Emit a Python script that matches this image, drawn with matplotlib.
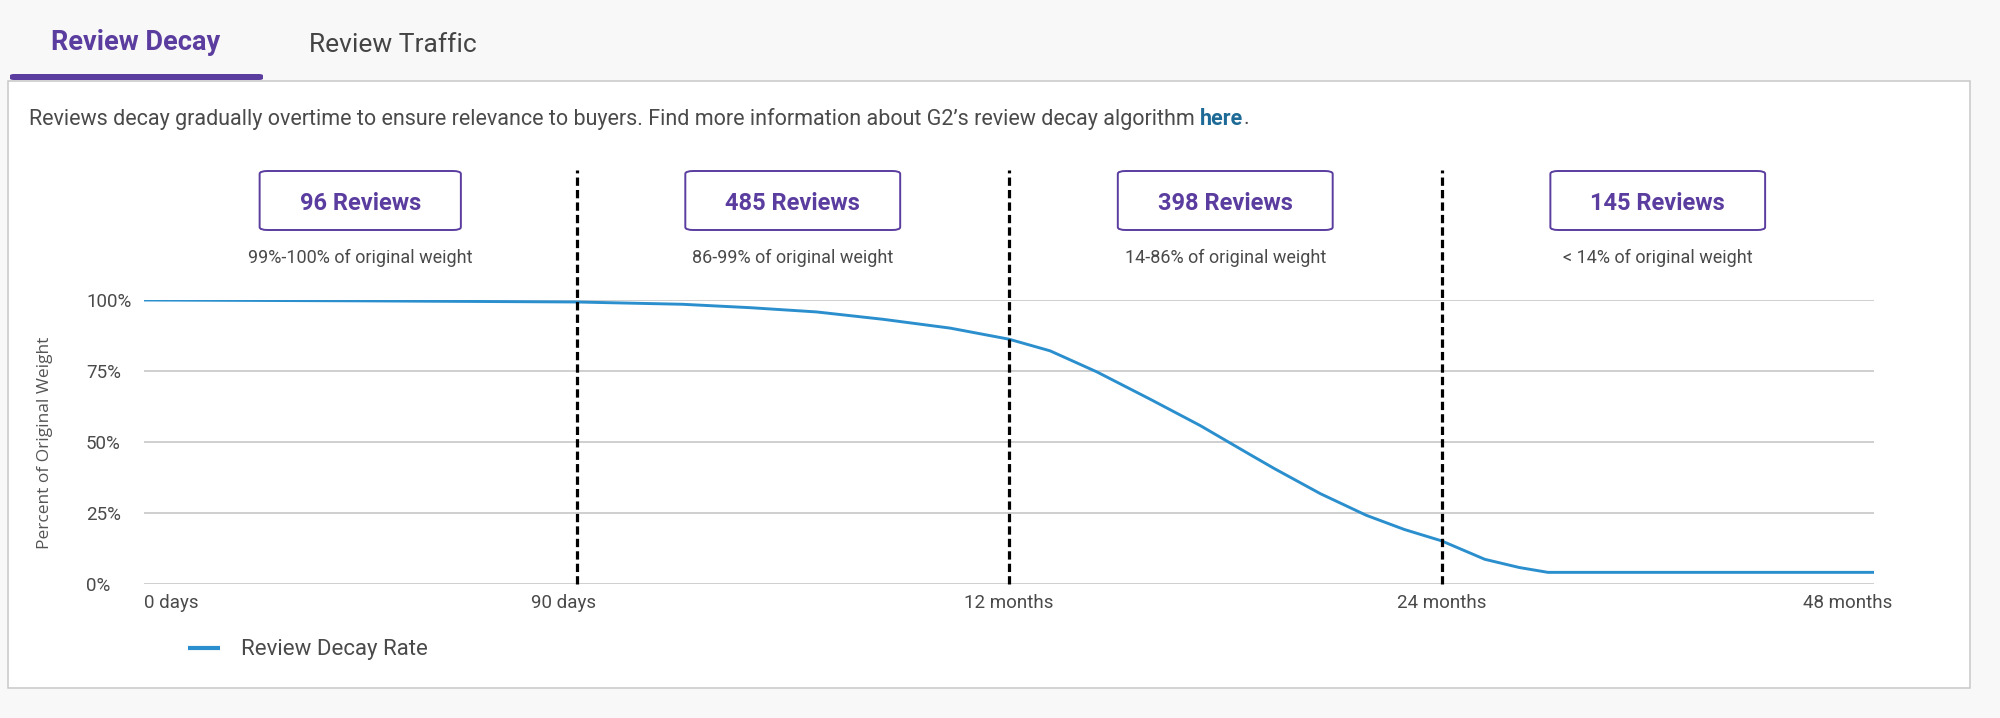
import matplotlib
matplotlib.use("Agg")
import matplotlib.pyplot as plt
from matplotlib.patches import FancyBboxPatch, Rectangle
from matplotlib.transforms import blended_transform_factory

# ---------------- data ----------------
tick_labels = ["0 days", "90 days", "12 months", "24 months", "48 months"]
tick_pos = [0, 0.97, 2, 3, 3.94]
boundaries = [1, 2, 3]
segment_centers = [0.5, 1.5, 2.5, 3.5]
review_counts = ["96 Reviews", "485 Reviews", "398 Reviews", "145 Reviews"]
weight_ranges = ["99%-100% of original weight", "86-99% of original weight",
                 "14-86% of original weight", "< 14% of original weight"]
x_pos = [0, 0.5, 1.0, 1.244, 1.401, 1.555, 1.709, 1.864, 2.0, 2.095, 2.203,
         2.326, 2.442, 2.557, 2.614, 2.72, 2.826, 2.914, 3.0, 3.1, 3.18, 3.246, 4.0]
decay = [100, 99.7, 99.3, 98.5, 97.3, 95.8, 93.2, 90.1, 86.2, 82.1, 74.7,
         65.1, 55.8, 45.6, 40.6, 31.8, 24.2, 19.2, 15.2, 8.7, 5.8, 4.1, 4.1]
y_ticks = [0, 25, 50, 75, 100]
y_tick_labels = ["0%", "25%", "50%", "75%", "100%"]

W, H = 2000, 718
PURPLE = "#5a3d9f"
BLUE = "#2b8fce"
GRAY = "#4a4a4a"
FONT = ["Roboto", "DejaVu Sans"]

def fx(px):
    return px / W

def fy(py):
    return 1 - py / H

plt.rcParams["font.family"] = FONT

fig = plt.figure(figsize=(20, 7.18), dpi=100)
fig.patch.set_facecolor("#f8f8f8")

# white panel
panel = Rectangle((fx(8), fy(688)), fx(1970) - fx(8), fy(81) - fy(688),
                  transform=fig.transFigure, facecolor="white",
                  edgecolor="#c8c8c8", linewidth=1.1, zorder=-2)
fig.patches.append(panel)
# tab underline
tab = FancyBboxPatch((fx(10), fy(80)), fx(263) - fx(10), fy(74) - fy(80),
                     boxstyle="round,pad=0,rounding_size=0.002",
                     transform=fig.transFigure, facecolor=PURPLE,
                     edgecolor="none", zorder=3)
fig.patches.append(tab)

fig.text(fx(136), fy(43), "Review Decay", fontsize=19.5, fontweight="bold",
         color=PURPLE, ha="center", va="center")
fig.text(fx(393), fy(45), "Review Traffic", fontsize=19, color="#444444",
         ha="center", va="center")

# description
desc = fig.text(fx(29), fy(119), "Reviews decay gradually overtime to ensure relevance to buyers. "
                "Find more information about G2\u2019s review decay algorithm ",
                fontsize=15.5, color=GRAY, ha="left", va="center")
fig.canvas.draw()
r = fig.canvas.get_renderer()
bb = desc.get_window_extent(r)
here = fig.text(bb.x1 / W, fy(119), "here", fontsize=15.5, fontweight="bold",
                color="#1d6a96", ha="left", va="center")
bb2 = here.get_window_extent(r)
fig.text(bb2.x1 / W, fy(119), ".", fontsize=15.5, color=GRAY, ha="left", va="center")

# axes
ax = fig.add_axes([fx(144), fy(584), fx(1874) - fx(144), fy(300) - fy(584)])
ax.set_zorder(2)
ax.set_facecolor("none")
ax.set_xlim(0, 4)
ax.set_ylim(0, 100)
for s in ax.spines.values():
    s.set_visible(False)
ax.set_yticks(y_ticks)
ax.set_yticklabels(y_tick_labels)
ax.yaxis.grid(True, color="#cccccc", linewidth=1.3)
ax.set_axisbelow(True)
ax.tick_params(axis="y", length=0, pad=41.8, labelsize=13.5, labelcolor=GRAY)
for lab in ax.get_yticklabels():
    lab.set_horizontalalignment("left")
ax.set_xticks(tick_pos)
ax.set_xticklabels(tick_labels)
ax.tick_params(axis="x", length=0, pad=7, labelsize=13.5, labelcolor=GRAY)
ax.get_xticklabels()[0].set_horizontalalignment("left")

line, = ax.plot(x_pos, decay, color=BLUE, linewidth=2.1, label="Review Decay Rate",
                solid_capstyle="butt", solid_joinstyle="round", zorder=3)

top_ax = (584 - 170) / (584 - 300)
for b in boundaries:
    ax.axvline(b, ymin=0, ymax=top_ax, color="black", linewidth=2.3,
               linestyle=(0, (2.6, 1.3)), clip_on=False, zorder=4)

# boxes
tr = blended_transform_factory(ax.transData, fig.transFigure)
for c, cnt, rng in zip(segment_centers, review_counts, weight_ranges):
    t = ax.text(c, fy(204), cnt, transform=tr, fontsize=17, fontweight="bold",
                color=PURPLE, ha="center", va="center", zorder=5)
    ax.text(c, fy(258), rng, transform=tr, fontsize=13, color=GRAY,
            ha="center", va="center")
    fig.canvas.draw()
    tb = t.get_window_extent(fig.canvas.get_renderer())
    bw = tb.width + 80
    cx = (tb.x0 + tb.x1) / 2
    box = FancyBboxPatch((fx(cx - bw / 2), fy(230)), fx(bw), fy(171) - fy(230),
                         boxstyle="round,pad=0,rounding_size=0.004",
                         transform=fig.transFigure, facecolor="white",
                         edgecolor=PURPLE, linewidth=1.4, zorder=1)
    fig.patches.append(box)

fig.text(fx(45), fy(443), "Percent of Original Weight", rotation=90,
         fontsize=12.5, color="#555555", ha="center", va="center",
         family=["Open Sans", "DejaVu Sans"])

leg = ax.legend(handles=[line], loc="center left",
                bbox_to_anchor=(fx(188), fy(650)), bbox_transform=fig.transFigure,
                frameon=False, fontsize=16, handlelength=1.45, handletextpad=0.95,
                borderpad=0, borderaxespad=0)
for txt in leg.get_texts():
    txt.set_color(GRAY)
leg.get_lines()[0].set_linewidth(3)

fig.savefig("out.png", dpi=100, facecolor=fig.get_facecolor())
